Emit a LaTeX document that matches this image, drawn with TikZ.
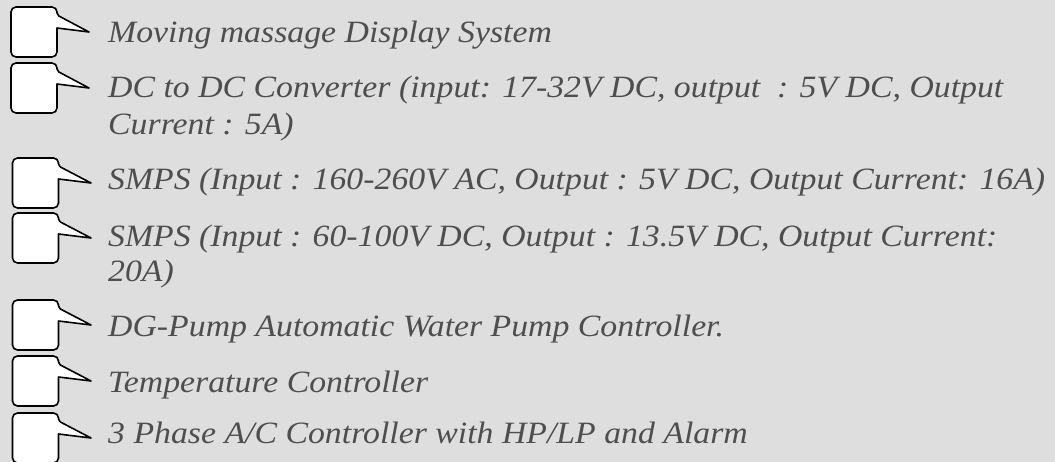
\documentclass[tikz,border=0pt]{standalone}
\usepackage{fontspec}
\usepackage{graphicx}
\setmainfont{Liberation Serif}
\definecolor{bg}{RGB}{222,222,222}
\definecolor{txt}{RGB}{78,78,78}
\newlength{\reflinew}
\newcommand{\itemfont}{\fontsize{31}{37}\selectfont\itshape}
\settowidth{\reflinew}{\itemfont SMPS (Input : 160-260V AC, Output : 5V DC, Output Current: 16A)}
\pgfmathsetmacro{\hsx}{937/\reflinew}
\newcommand{\itemtext}[1]{\scalebox{\hsx}[1]{\itemfont #1}}
\tikzset{
  callout/.style={draw=black, line width=1.6pt, fill=white, line join=round},
  itemlabel/.style={anchor=base west, inner sep=0pt, text=txt},
}
\newcommand{\callout}[3]{% #1 left x, #2 top y, #3 tip x
  \draw[callout]
    (#1+46,#2+21) [rounded corners=5pt] -- (#1+46,#2+50) -- (#1,#2+50) -- (#1,#2) -- (#1+46,#2)
    [rounded corners=2pt] -- (#1+46,#2+8)
    [sharp corners] -- (#3,#2+25) -- cycle;
}
\begin{document}
\begin{tikzpicture}[x=1pt,y=-1pt]
\fill[bg] (0,0) rectangle (1055,462);
\useasboundingbox (0,0) rectangle (1055,462);
\begin{scope}
\clip (0,0) rectangle (1055,462);
\callout{11}{7}{89}
\callout{11}{63}{89}
\callout{12.5}{158}{91}
\callout{12.5}{213}{91}
\callout{12.5}{300}{91}
\callout{12.5}{356}{91}
\callout{12.5}{413}{91}
\end{scope}
\node[itemlabel] (t1) at (108,43) {\itemtext{Moving massage Display System}};
\node[itemlabel] (t2a) at (108,98) {\itemtext{DC to DC Converter (input: 17-32V DC, output\ \ : 5V DC, Output}};
\node[itemlabel] (t2b) at (108,135) {\itemtext{Current : 5A)}};
\node[itemlabel] (t3) at (108,190) {\itemtext{SMPS (Input : 160-260V AC, Output : 5V DC, Output Current: 16A)}};
\node[itemlabel] (t4a) at (108,247) {\itemtext{SMPS (Input : 60-100V DC, Output : 13.5V DC, Output Current:}};
\node[itemlabel] (t4b) at (108,282) {\itemtext{20A)}};
\node[itemlabel] (t5) at (108,337) {\itemtext{DG-Pump Automatic Water Pump Controller.}};
\node[itemlabel] (t6) at (108,392) {\itemtext{Temperature Controller}};
\node[itemlabel] (t7) at (108,443) {\itemtext{3 Phase A/C Controller with HP/LP and Alarm}};
\end{tikzpicture}
\end{document}
